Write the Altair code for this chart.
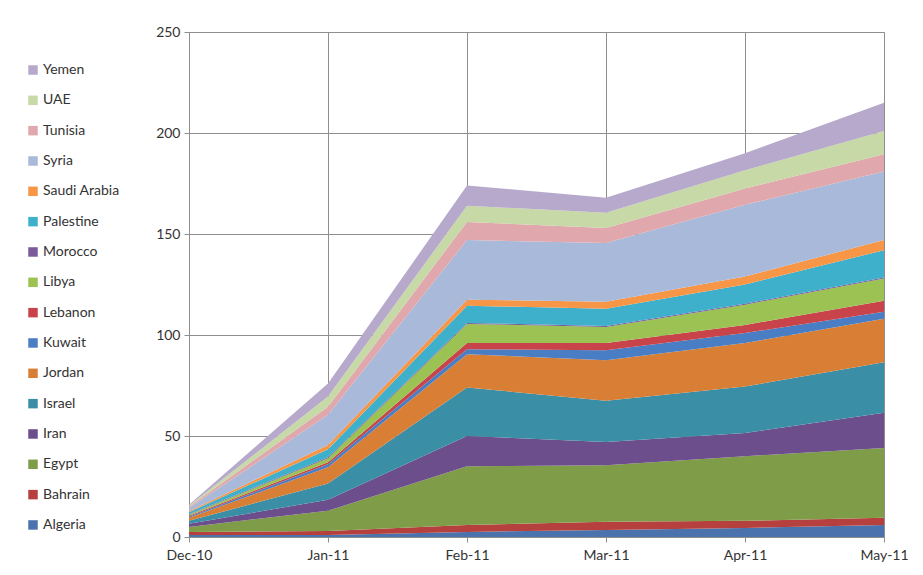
import altair as alt
import pandas as pd

months = ["Dec-10", "Jan-11", "Feb-11", "Mar-11", "Apr-11", "May-11"]

# stacking order: bottom -> top
countries = ["Algeria", "Bahrain", "Egypt", "Iran", "Israel", "Jordan", "Kuwait",
             "Lebanon", "Libya", "Morocco", "Palestine", "Saudi Arabia", "Syria",
             "Tunisia", "UAE", "Yemen"]

algeria   = [1.0, 1.0, 2.5, 3.5, 4.5, 6.0]
bahrain   = [1.5, 2.0, 3.5, 4.0, 3.5, 3.5]
egypt     = [2.5, 10.0, 29.0, 28.0, 32.0, 34.5]
iran      = [1.5, 5.5, 15.0, 11.5, 11.5, 17.5]
israel    = [1.5, 8.0, 24.0, 20.5, 23.0, 25.0]
jordan    = [1.5, 8.0, 16.5, 20.0, 21.5, 21.5]
kuwait    = [0.5, 1.5, 2.5, 5.0, 5.0, 3.5]
lebanon   = [0.5, 1.0, 3.0, 3.5, 4.0, 5.5]
libya     = [0.5, 2.0, 9.5, 8.0, 10.0, 11.0]
morocco   = [0.3, 0.5, 0.5, 0.5, 0.5, 0.5]
palestine = [1.0, 4.0, 8.5, 8.5, 9.5, 13.5]
saudi     = [0.5, 2.0, 3.0, 3.5, 4.0, 5.0]
syria     = [1.5, 15.0, 29.5, 29.0, 35.5, 34.0]
tunisia   = [0.7, 4.0, 9.0, 7.5, 8.0, 8.5]
uae       = [0.5, 5.0, 8.0, 7.5, 9.0, 11.5]
yemen     = [0.5, 6.5, 10.0, 7.5, 8.5, 14.0]

series = [algeria, bahrain, egypt, iran, israel, jordan, kuwait, lebanon, libya,
          morocco, palestine, saudi, syria, tunisia, uae, yemen]

colors = ["#4a73ad", "#b5403e", "#7f9c48", "#6c4e8c", "#3a8ea6", "#d97f35",
          "#4a7ec4", "#c8444a", "#9cc253", "#7a5a9a", "#3fb0cc", "#f79646",
          "#a9b9d9", "#e0a8ac", "#c6d9a6", "#b7a9cc"]

y_ticks = [0, 50, 100, 150, 200, 250]

rows = []
for i, (c, vals) in enumerate(zip(countries, series)):
    for m, v in zip(months, vals):
        rows.append({"country": c, "month": m, "value": v, "order": i})
df = pd.DataFrame(rows)

legend_order = countries[::-1]
legend_colors = colors[::-1]

FONT = "Lato"

chart = alt.Chart(df).mark_area(strokeWidth=0).encode(
    x=alt.X("month:O", sort=months,
            scale=alt.Scale(type="point", padding=0),
            axis=alt.Axis(title=None, labelAngle=0, grid=True, gridColor="#8e8e8e",
                          domainColor="#8e8e8e", tickColor="#8e8e8e", tickSize=5,
                          labelFontSize=14, labelColor="#333333", labelFont=FONT,
                          labelPadding=6)),
    y=alt.Y("value:Q", stack="zero",
            scale=alt.Scale(domain=[0, 250], nice=False),
            axis=alt.Axis(title=None, values=y_ticks, grid=True, gridColor="#8e8e8e",
                          domainColor="#8e8e8e", tickColor="#8e8e8e", tickSize=5,
                          labelFontSize=14, labelColor="#333333", labelFont=FONT,
                          labelPadding=4)),
    color=alt.Color("country:N",
                    scale=alt.Scale(domain=legend_order, range=legend_colors),
                    legend=alt.Legend(title=None, orient="none", legendX=-163, legendY=31,
                                      symbolType="square", symbolSize=90,
                                      symbolStrokeWidth=0, symbolOpacity=1,
                                      labelFontSize=14, labelFont=FONT,
                                      labelColor="#333333", rowPadding=16.33,
                                      labelOffset=3)),
    order=alt.Order("order:Q", sort="ascending"),
).properties(
    width=695, height=505,
    autosize=alt.AutoSizeParams(type="none"),
    padding={"left": 189, "top": 32, "right": 39, "bottom": 38},
).configure_view(stroke=None).configure(background="white")

chart.save("out.html", embed_options={"renderer": "svg", "actions": False})
